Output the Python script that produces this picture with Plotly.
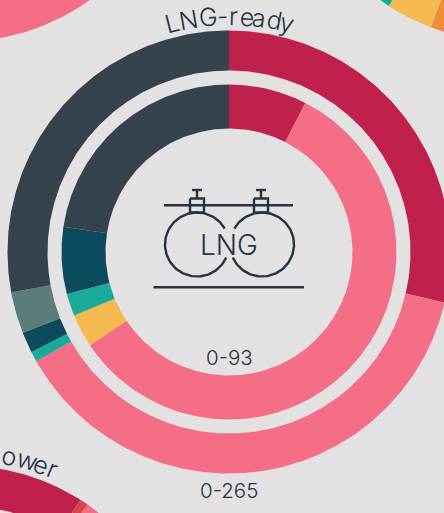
import numpy as np
import plotly.graph_objects as go

# ---- data ----
CRIMSON, PINK, YELLOW, ORANGE, EMBER = "#c0214c", "#f46e88", "#f4b94f", "#ee8e34", "#d8434f"
TEAL, DEEP, SAGE, SLATE = "#1aab98", "#0c4a5d", "#5b7c7a", "#36434c"
INK, BG = "#26343f", "#e3e1e2"

lng_outer_values = [76, 101, 2, 4, 8, 74]           # total 265
lng_outer_colors = [CRIMSON, PINK, TEAL, DEEP, SAGE, SLATE]
lng_inner_values = [7, 54, 3, 2, 6, 21]             # total 93
lng_inner_colors = [CRIMSON, PINK, YELLOW, TEAL, DEEP, SLATE]

# neighbouring charts cropped by the frame (only their outer rings show)
upper_left_values = [60, 40, 180, 30, 50]
upper_left_colors = [CRIMSON, SAGE, PINK, TEAL, SLATE]
upper_right_values = [120, 77.6, 3.1, 12.2, 17, 130.1]
upper_right_colors = [CRIMSON, PINK, ORANGE, YELLOW, TEAL, SLATE]
lower_left_values = [32.3, 2.2, 120, 5, 20, 180.5]
lower_left_colors = [CRIMSON, EMBER, PINK, YELLOW, TEAL, SLATE]

title_main = "LNG-ready"
title_lower = "power"
range_outer = "0-265"
range_inner = "0-93"
icon_label = "LNG"

# ---- layout ----
W, H = 444, 513
FONT = "Inter"
CX, CY = 229, 252
R_OUT, R_MID, R_IN2, R_HOLE = 221.5, 181.5, 167.5, 123.5
TITLE_ANGLES = [-14.0, -9.9, -5.0, -1.6, 1.1, 4.4, 7.4, 11.0, 14.3]
LOWER_ANGLES = [8.2, 11.5, 16.0, 19.7, 22.6]

fig = go.Figure()


def ring(values, colors, cx, cy, r0, r1):
    total = sum(values)
    start = 0.0
    for v, c in zip(values, colors):
        end = start + v / total * 2 * np.pi
        t = np.linspace(start, end, max(3, int((end - start) * 120)))
        xs = np.r_[cx + r1 * np.sin(t), cx + r0 * np.sin(t[::-1])]
        ys = np.r_[cy - r1 * np.cos(t), cy - r0 * np.cos(t[::-1])]
        fig.add_trace(go.Scatter(x=np.r_[xs, xs[0]], y=np.r_[ys, ys[0]], mode="lines",
                                 fill="toself", fillcolor=c, line=dict(width=0),
                                 hoverinfo="skip", showlegend=False))
        start = end


def stroke(xs, ys, w=2.4):
    fig.add_trace(go.Scatter(x=xs, y=ys, mode="lines", line=dict(color=INK, width=w),
                             hoverinfo="skip", showlegend=False))


ring(upper_left_values, upper_left_colors, -39, -180, R_MID, R_OUT)
ring(upper_right_values, upper_right_colors, 509, -180, R_MID, R_OUT)
ring(lower_left_values, lower_left_colors, -38, 687, R_MID, R_OUT)
ring(lng_outer_values, lng_outer_colors, CX, CY, R_MID, R_OUT)
ring(lng_inner_values, lng_inner_colors, CX, CY, R_HOLE, R_IN2)

# icon: two tanks, pipe, valves, ground line
ICON_R, ICON_Y = 32, 244.5
for c, a0, a1 in [(197, 114, 420), (262, -60, 246)]:
    t = np.radians(np.linspace(a0, a1, 120))
    stroke(c + ICON_R * np.sin(t), ICON_Y - ICON_R * np.cos(t))
stroke([164, 293], [205.3, 205.3])
stroke([153.5, 304], [287.3, 287.3])
for bx in (197, 261):
    stroke([bx - 7, bx + 7, bx + 7, bx - 7, bx - 7], [198.5, 198.5, 212.5, 212.5, 198.5])
    stroke([bx, bx], [190, 198.5])
    stroke([bx - 5, bx + 5], [190, 190])


def text(s, x, y, size, angle=0):
    fig.add_annotation(x=x, y=y, text=s, showarrow=False, textangle=angle,
                       xanchor="center", yanchor="middle",
                       font=dict(family=FONT, size=size, color=INK, weight=350))


for ch, a in zip(title_main, TITLE_ANGLES):
    t = np.radians(a)
    text(ch, CX + 236 * np.sin(t), CY - 236 * np.cos(t), 25, a)
for ch, a in zip(title_lower, LOWER_ANGLES):
    t = np.radians(a)
    text(ch, -38 + 236 * np.sin(t), 687 - 236 * np.cos(t), 25, a)
text(icon_label, CX, 244.5, 28)
text(range_inner, CX, 357, 20.5)
text(range_outer, CX, 490, 20.5)

fig.update_layout(width=W, height=H, margin=dict(l=0, r=0, t=0, b=0),
                  paper_bgcolor=BG, plot_bgcolor=BG, showlegend=False,
                  xaxis=dict(range=[0, W], visible=False, fixedrange=True),
                  yaxis=dict(range=[H, 0], visible=False, fixedrange=True))
fig.write_html("out.html", config=dict(displayModeBar=False),
               post_script="document.body.style.margin='0';document.body.style.overflow='hidden';document.body.style.background='%s';" % BG)
